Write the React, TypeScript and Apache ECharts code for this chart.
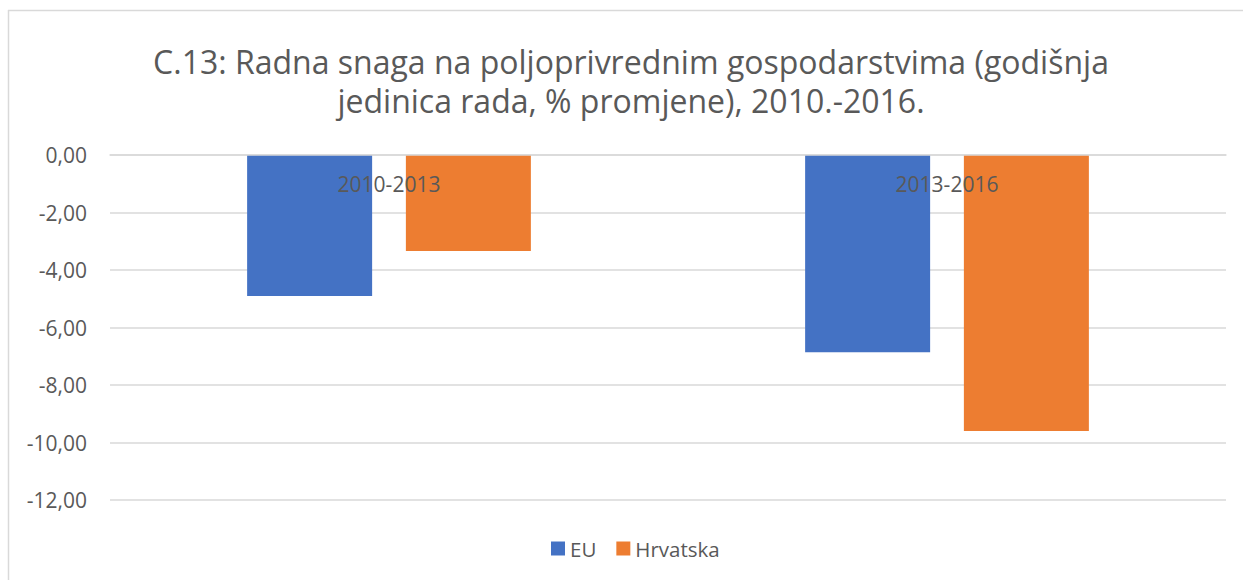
import React, { useEffect, useRef } from "react";
import * as echarts from "echarts";

const categories = ["2010-2013", "2013-2016"];
const euValues = [-4.9, -6.86];
const hrValues = [-3.34, -9.6];
const seriesNames = ["EU", "Hrvatska"];
const titleLines = [
  "C.13: Radna snaga na poljoprivrednim gospodarstvima (godišnja",
  "jedinica rada, % promjene), 2010.-2016.",
];

const FONT = "'Open Sans', 'Noto Sans', sans-serif";
const TXT = "#595959";
const GRID = "#d9d9d9";

export default function App() {
  const ref = useRef<HTMLDivElement>(null);
  useEffect(() => {
    document.body.style.margin = "0";
    const chart = echarts.init(ref.current!, null, { renderer: "svg" });
    chart.setOption({
      animation: false,
      backgroundColor: "#ffffff",
      textStyle: { fontFamily: FONT, color: TXT },
      legend: {
        data: seriesNames,
        bottom: 16,
        left: 546,
        itemWidth: 14,
        itemHeight: 14,
        itemGap: 20,
        icon: "rect",
        textStyle: { fontFamily: FONT, fontSize: 20.5, color: TXT },
      },
      grid: { left: 110, right: 17, top: 155, bottom: 80, containLabel: false },
      xAxis: {
        type: "category",
        data: categories,
        position: "top",
        z: 10,
        axisLine: { show: true, onZero: false, lineStyle: { color: GRID, width: 1.5 } },
        axisTick: { show: false },
        axisLabel: { inside: true, fontFamily: FONT, fontSize: 21, color: TXT, margin: 18 },
      },
      yAxis: {
        type: "value",
        min: -12,
        max: 0,
        interval: 2,
        axisLine: { show: false },
        axisTick: { show: false },
        splitLine: { lineStyle: { color: GRID, width: 1.5 } },
        axisLabel: {
          fontFamily: FONT,
          fontSize: 21,
          color: TXT,
          margin: 23,
          formatter: (v: number) => v.toFixed(2).replace(".", ","),
        },
      },
      series: [
        {
          name: seriesNames[0],
          type: "bar",
          data: euValues,
          barWidth: 125,
          barGap: "27%",
          itemStyle: { color: "#4472C4" },
        },
        {
          name: seriesNames[1],
          type: "bar",
          data: hrValues,
          barWidth: 125,
          itemStyle: { color: "#ED7D31" },
        },
      ],
      graphic: [
        { type: "line", shape: { x1: 8.5, y1: 10, x2: 8.5, y2: 580 }, style: { stroke: GRID, lineWidth: 1.5 } },
        { type: "line", shape: { x1: 8, y1: 10.5, x2: 1243, y2: 10.5 }, style: { stroke: GRID, lineWidth: 1.5 } },
        {
          type: "text",
          x: 631,
          y: 81,
          style: {
            text: titleLines.join("\n"),
            fontFamily: FONT,
            fontSize: 32,
            lineHeight: 39,
            fill: TXT,
            align: "center",
            verticalAlign: "middle",
          },
        },
      ],
    });
    return () => chart.dispose();
  }, []);
  return <div ref={ref} style={{ width: 1243, height: 580 }} />;
}
